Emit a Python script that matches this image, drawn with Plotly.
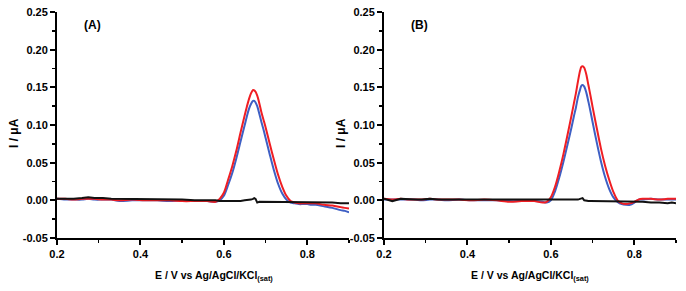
import plotly.graph_objects as go

# Potential grid (V vs Ag/AgCl/KCl(sat)) shared by all curves
E = [0.20, 0.22, 0.24, 0.26, 0.275, 0.29, 0.31, 0.33, 0.35, 0.38,
     0.41, 0.44, 0.47, 0.50, 0.53, 0.56, 0.58, 0.59, 0.60, 0.61,
     0.62, 0.63, 0.64, 0.65, 0.655, 0.66, 0.665, 0.67, 0.673, 0.676,
     0.68, 0.685, 0.69, 0.695, 0.70, 0.71, 0.72, 0.73, 0.74, 0.75,
     0.76, 0.77, 0.78, 0.79, 0.80, 0.81, 0.82, 0.84, 0.86, 0.88,
     0.89, 0.90]

# Panel A currents (uA)
red_A = [0.002, 0.002, 0.001, 0.002, 0.002, 0.002, 0.001, 0.001, 0.000, 0.001,
         0.000, 0.000, 0.000, -0.001, -0.001, -0.001, -0.002, 0.002, 0.010, 0.027,
         0.045, 0.066, 0.090, 0.113, 0.124, 0.134, 0.142, 0.1465, 0.146, 0.144,
         0.139, 0.129, 0.117, 0.107, 0.097, 0.075, 0.054, 0.034, 0.018, 0.006,
         -0.001, -0.003, -0.004, -0.004, -0.004, -0.004, -0.004, -0.006, -0.007, -0.009,
         -0.010, -0.011]
blue_A = [0.002, 0.001, 0.001, 0.001, 0.002, 0.001, 0.001, 0.001, -0.001, 0.000,
          0.000, 0.000, -0.001, 0.000, -0.001, -0.001, -0.002, 0.000, 0.006, 0.020,
          0.036, 0.056, 0.078, 0.100, 0.111, 0.121, 0.128, 0.132, 0.132, 0.130,
          0.125, 0.115, 0.104, 0.094, 0.083, 0.061, 0.040, 0.022, 0.009, 0.001,
          -0.003, -0.004, -0.005, -0.005, -0.005, -0.006, -0.006, -0.008, -0.010, -0.013,
          -0.014, -0.016]
black_A = [0.002, 0.002, 0.002, 0.003, 0.004, 0.003, 0.003, 0.002, 0.002, 0.001,
           0.001, 0.001, 0.001, 0.001, 0.000, 0.000, 0.000, -0.001, -0.001, -0.001,
           -0.001, -0.001, -0.001, 0.000, 0.000, 0.000, 0.001, 0.002, 0.003, 0.002,
           -0.003, -0.002, -0.002, -0.002, -0.002, -0.002, -0.002, -0.002, -0.002, -0.002,
           -0.002, -0.002, -0.002, -0.002, -0.002, -0.003, -0.002, -0.003, -0.003, -0.004,
           -0.004, -0.004]

# Panel B currents (uA)
red_B = [0.002, 0.001, 0.002, 0.001, 0.001, 0.001, 0.002, 0.001, 0.001, 0.001,
         0.000, 0.001, 0.000, -0.002, -0.001, -0.001, -0.003, -0.002, 0.004, 0.018,
         0.038, 0.061, 0.087, 0.114, 0.128, 0.142, 0.158, 0.172, 0.177, 0.178,
         0.176, 0.167, 0.153, 0.139, 0.124, 0.096, 0.069, 0.046, 0.027, 0.011,
         0.000, -0.004, -0.005, -0.004, -0.002, 0.001, 0.002, 0.002, 0.001, 0.002,
         0.002, 0.002]
blue_B = [0.001, 0.001, 0.001, 0.001, 0.001, 0.000, 0.001, 0.001, 0.000, 0.001,
          0.000, 0.000, 0.000, -0.001, -0.001, -0.001, -0.002, -0.003, 0.000, 0.012,
          0.030, 0.051, 0.074, 0.098, 0.111, 0.123, 0.137, 0.147, 0.152, 0.153,
          0.151, 0.143, 0.131, 0.118, 0.104, 0.077, 0.052, 0.031, 0.015, 0.004,
          -0.002, -0.005, -0.006, -0.006, -0.003, 0.001, 0.001, 0.002, 0.001, 0.001,
          0.001, 0.001]
black_B = [0.002, -0.001, 0.002, 0.001, 0.001, 0.001, 0.002, 0.001, 0.001, 0.001,
           0.001, 0.001, 0.000, 0.000, 0.000, 0.000, 0.000, 0.000, 0.000, 0.000,
           0.000, 0.000, 0.000, 0.000, 0.001, 0.001, 0.001, 0.002, 0.003, 0.003,
           0.000, -0.001, -0.001, -0.001, -0.001, -0.001, -0.001, -0.001, -0.001, -0.001,
           -0.001, -0.002, -0.002, -0.002, -0.002, -0.002, -0.002, -0.003, -0.003, -0.004,
           -0.003, -0.004]

x_ticks = [0.2, 0.4, 0.6, 0.8]
x_tick_text = ["0.2", "0.4", "0.6", "0.8"]
y_ticks = [-0.05, 0.00, 0.05, 0.10, 0.15, 0.20, 0.25]
y_tick_text = ["-0.05", "0.00", "0.05", "0.10", "0.15", "0.20", "0.25"]

RED = "#f01e23"
BLUE = "#3e5fc4"
BLACK = "#111111"
FONT = "Liberation Sans, Arial, sans-serif"

fig = go.Figure()
for xa, ya, series in (("x", "y", (blue_A, red_A, black_A)),
                       ("x2", "y2", (blue_B, red_B, black_B))):
    for vals, col in zip(series, (BLUE, RED, BLACK)):
        shape = "linear" if col == BLACK else "spline"
        fig.add_trace(go.Scatter(x=E, y=vals, mode="lines", xaxis=xa, yaxis=ya,
                                 line=dict(color=col, width=2, shape=shape, smoothing=0.8),
                                 showlegend=False, hoverinfo="skip"))

W, H = 686, 291
def px(x):
    return x / W
def py(y):
    return 1 - y / H

axis_common = dict(showline=True, linecolor="black", linewidth=2, mirror=False,
                   ticks="outside", ticklen=5, tickwidth=2, tickcolor="black",
                   showgrid=False, zeroline=False, automargin=False, fixedrange=True,
                   tickfont=dict(family=FONT, size=11, color="black"))

xcommon = dict(axis_common, range=[0.2, 0.9], tickmode="array", tickvals=x_ticks,
               ticktext=["<b>%s</b>" % t for t in x_tick_text],
               minor=dict(tickmode="array", tickvals=[0.3, 0.5, 0.7, 0.9], ticks="outside",
                          ticklen=3, tickwidth=1.5, tickcolor="black", showgrid=False))
ycommon = dict(axis_common, range=[-0.05, 0.25], tickmode="array", tickvals=y_ticks,
               ticktext=["<b>%s</b>" % t for t in y_tick_text],
               minor=dict(dtick=0.025, tick0=0, ticks="outside", ticklen=3, tickwidth=1.5,
                          tickcolor="black", showgrid=False))

fig.update_layout(
    width=W, height=H,
    margin=dict(l=0, r=0, t=0, b=0),
    paper_bgcolor="white", plot_bgcolor="white",
    hovermode=False,
    xaxis=dict(xcommon, domain=[px(57), px(349)], anchor="y"),
    yaxis=dict(ycommon, domain=[py(238), py(12)], anchor="x"),
    xaxis2=dict(xcommon, domain=[px(384), px(676)], anchor="y2"),
    yaxis2=dict(ycommon, domain=[py(238), py(12)], anchor="x2"),
)

ann_font = dict(family=FONT, color="black")
annotations = [
    dict(text="<b>(A)</b>", x=px(92), y=py(25), font=dict(ann_font, size=12)),
    dict(text="<b>(B)</b>", x=px(419), y=py(25), font=dict(ann_font, size=12)),
    dict(text="<b>I / μA</b>", x=px(14), y=py(133), textangle=-90, font=dict(ann_font, size=12)),
    dict(text="<b>I / μA</b>", x=px(341), y=py(133), textangle=-90, font=dict(ann_font, size=12)),
    dict(text="<b>E / V vs Ag/AgCl/KCl<sub>(sat)</sub></b>", x=px(214), y=py(276),
         font=dict(ann_font, size=10.5)),
    dict(text="<b>E / V vs Ag/AgCl/KCl<sub>(sat)</sub></b>", x=px(530), y=py(276),
         font=dict(ann_font, size=10.5)),
]
for a in annotations:
    a.update(xref="paper", yref="paper", showarrow=False, xanchor="center", yanchor="middle")
fig.update_layout(annotations=annotations)

fig.write_html("out.html", config={"displayModeBar": False, "staticPlot": True},
               post_script="document.body.style.margin='0';document.body.style.overflow='hidden';")
